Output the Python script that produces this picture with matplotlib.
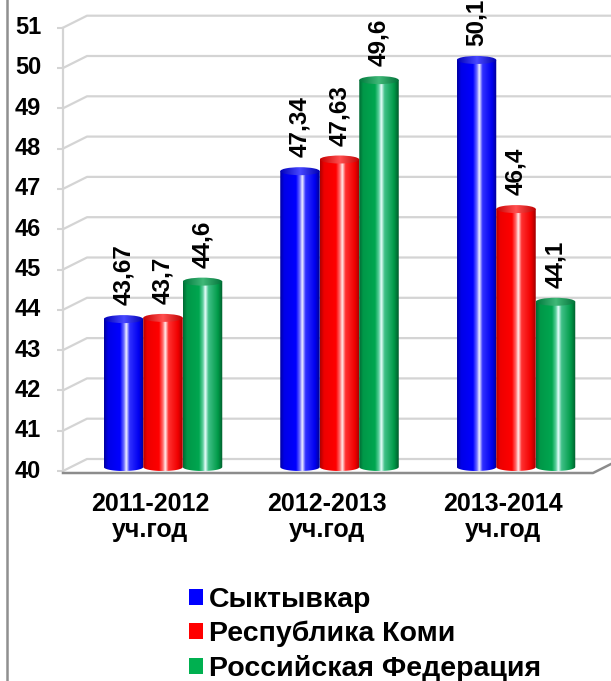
import matplotlib.pyplot as plt
from matplotlib.patches import PathPatch, Ellipse, Patch
from matplotlib.path import Path
from matplotlib.lines import Line2D
import numpy as np

plt.rcParams['font.family'] = ['Liberation Sans', 'DejaVu Sans']
plt.rcParams['font.weight'] = 'bold'

categories = ['2011-2012\nуч.год', '2012-2013\nуч.год', '2013-2014\nуч.год']
series_names = ['Сыктывкар', 'Республика Коми', 'Российская Федерация']
syktyvkar = [43.67, 47.34, 50.1]
komi = [43.7, 47.63, 46.4]
russia = [44.6, 49.6, 44.1]
series_values = [syktyvkar, komi, russia]
y_ticks = list(range(40, 52))

# gradient stops per series: (positions, colors) for body and cap
body_styles = [
    ([0, 0.1, 0.4, 0.5, 0.56, 0.64, 0.88, 1],
     ['#0000a0', '#0000e8', '#0000ff', '#7070ff', '#f4f4ff', '#3030ff', '#0000f0', '#000090']),
    ([0, 0.1, 0.4, 0.5, 0.56, 0.64, 0.88, 1],
     ['#b00000', '#ee0000', '#ff0000', '#ff7070', '#fff0f0', '#ff3030', '#f00000', '#a00000']),
    ([0, 0.1, 0.4, 0.5, 0.56, 0.64, 0.88, 1],
     ['#006a34', '#009848', '#00a650', '#60d0a0', '#eaffff', '#40c088', '#009a48', '#005c2c']),
]
cap_styles = [
    ([0, 0.5, 1], ['#0000b8', '#4848ff', '#0000b0']),
    ([0, 0.5, 1], ['#c80000', '#ff5050', '#c00000']),
    ([0, 0.5, 1], ['#007a3c', '#40b878', '#007238']),
]
legend_colors = ['#0000ff', '#ff0000', '#00b050']


def gradient(stops, n=96):
    pos, cols = stops
    rgb = np.array([[int(c[i:i + 2], 16) / 255 for i in (1, 3, 5)] for c in cols])
    t = np.linspace(0, 1, n)
    img = np.stack([np.interp(t, pos, rgb[:, k]) for k in range(3)], axis=-1)
    return img[np.newaxis, :, :]


fig = plt.figure(figsize=(6.11, 6.81), dpi=100)
ax = fig.add_axes([0, 0, 1, 1])
ax.set_axis_off()

px_x = 176.5   # pixels per category
px_y = 40.3    # pixels per value unit
x0_px = 163
base_px = 467
xlim = (-x0_px / px_x, (611 - x0_px) / px_x)
ylim = (40 - (681 - base_px) / px_y, 40 + base_px / px_y)

# oblique depth: full depth = 24 px right, 12 px up; bars at 1/3 depth
dxu, dyu = 24 / px_x, 12 / px_y
d_front, d_back = -1 / 3, 2 / 3


def proj(x, v, d):
    return x + d * dxu, v + d * dyu


wall_x = (63 - x0_px) / px_x - d_front * dxu
right_x = (593 - x0_px) / px_x - d_front * dxu
grid_c = '#d4d4d4'

for v in y_ticks:
    fx, fy = proj(wall_x, v, d_front)
    bx, by = proj(wall_x, v, d_back)
    ex, ey = proj(right_x + 0.3, v, d_back)
    ax.plot([fx - 6 / px_x, fx], [fy, fy], color=grid_c, lw=1.5, solid_capstyle='butt')
    ax.plot([fx, bx, ex], [fy, by, ey], color=grid_c, lw=1.6)
    ax.annotate(str(v), (fx, fy), xytext=(-22, 0), textcoords='offset pixels',
                ha='right', va='center', fontsize=17, fontweight='bold')

fx0, fy0 = proj(wall_x, 40, d_front)
fx1, fy1 = proj(wall_x, 51, d_front)
ax.plot([fx0, fx1], [fy0, fy1], color=grid_c, lw=1.6)

# floor front edge
rx, ry_ = proj(right_x, 40, d_front)
rbx, rby = proj(right_x, 40, d_back)
ax.plot([fx0, rx, rbx], [fy0 - 2 / px_y, ry_ - 2 / px_y, rby - 2 / px_y],
        color='#8c8c8c', lw=1.8)

bar_w = 39.5 / px_x
ell_h = 8 / px_y
arc = np.linspace(np.pi, 2 * np.pi, 40)

for s, vals in enumerate(series_values):
    body = gradient(body_styles[s])
    cap = gradient(cap_styles[s])
    for i, v in enumerate(vals):
        xc = i + (s - 1) * bar_w
        xa, xb = xc - bar_w / 2, xc + bar_w / 2
        verts = [(xa, v), (xa, 40)]
        verts += [(xc + bar_w / 2 * np.cos(a), 40 + ell_h / 2 * np.sin(a)) for a in arc]
        verts += [(xb, v), (xa, v)]
        clip = PathPatch(Path(verts, closed=True), transform=ax.transData)
        im = ax.imshow(body, extent=(xa, xb, 40 - ell_h, v), aspect='auto',
                       interpolation='bilinear', zorder=3)
        im.set_clip_path(clip)
        cp = Ellipse((xc, v), bar_w, ell_h, transform=ax.transData)
        im2 = ax.imshow(cap, extent=(xa, xb, v - ell_h, v + ell_h), aspect='auto',
                        interpolation='bilinear', zorder=4)
        im2.set_clip_path(cp)
        ax.annotate(str(v).replace('.', ','), (xc, v), xytext=(0, 14),
                    textcoords='offset pixels', rotation=90, ha='center', va='bottom',
                    fontsize=17.5, fontweight='bold', zorder=5)

for i, name in enumerate(categories):
    ax.annotate(name, (i, 40), xytext=(-13, -50), textcoords='offset pixels',
                ha='center', va='center', fontsize=18, fontweight='bold',
                linespacing=1.1)

ax.set_xlim(*xlim)
ax.set_ylim(*ylim)

handles = [Patch(facecolor=c, edgecolor='none') for c in legend_colors]
fig.legend(handles, series_names, loc='upper left',
           bbox_to_anchor=(189 / 611, 1 - 587 / 681), frameon=False,
           prop={'size': 20.5, 'weight': 'bold'}, handlelength=0.48, handleheight=0.48,
           handletextpad=0.22, labelspacing=0.27, borderpad=0, borderaxespad=0)

fig.add_artist(Line2D([7 / 611, 7 / 611], [0, 1], color='#909090', lw=1.8))

fig.savefig('out.png', dpi=100)
